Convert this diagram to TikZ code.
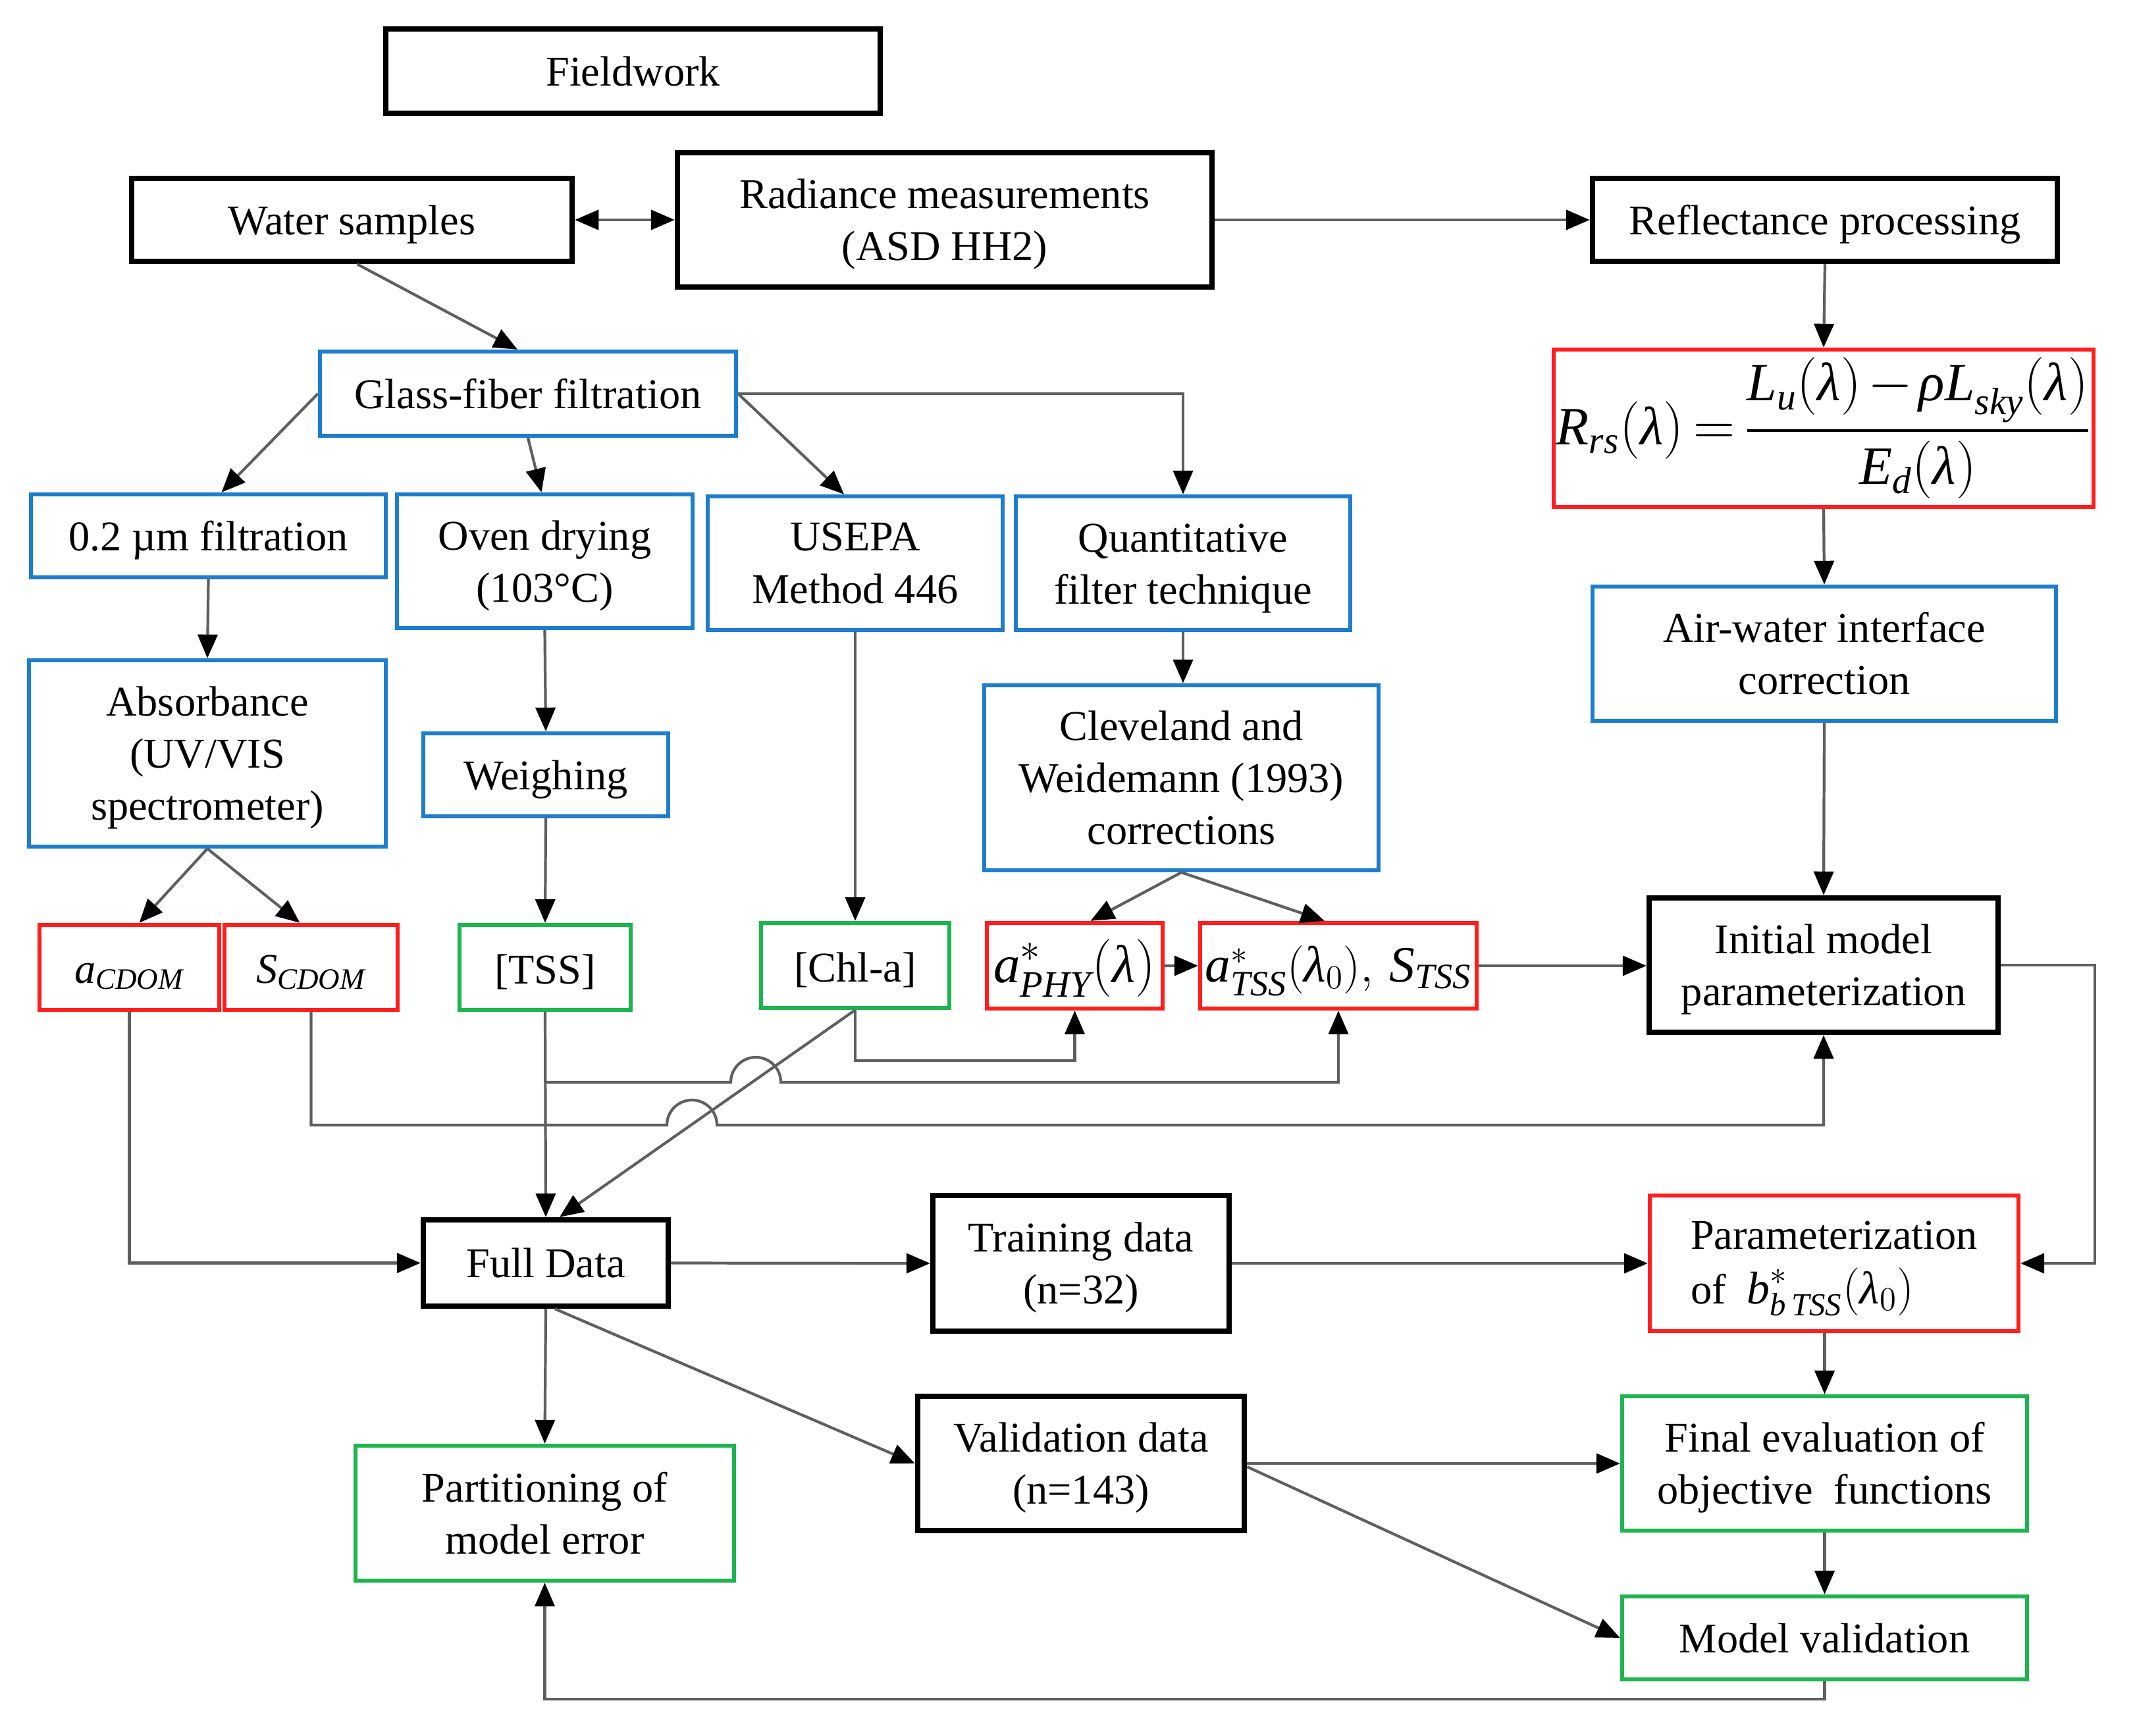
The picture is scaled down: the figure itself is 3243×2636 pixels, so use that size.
\documentclass[tikz,border=0pt]{standalone}
\usepackage{amsmath}
\usepackage{fontspec}
\setmainfont{Liberation Serif}
\usetikzlibrary{arrows.meta,calc}
\definecolor{cred}{RGB}{255,30,30}
\definecolor{cblue}{RGB}{30,125,205}
\definecolor{cgreen}{RGB}{30,180,80}
\definecolor{lineg}{RGB}{95,95,95}
\newcommand{\fs}{\fontsize{18.3pt}{22.5pt}\selectfont}
\newcommand{\vi}[1]{\textit{#1}}
\newcommand{\st}{\rule{0pt}{0.9em}}
\tikzset{
  wh/.style 2 args={minimum width=#1*0.01cm, minimum height=#2*0.01cm},
  box/.style={align=center, inner sep=0pt, font=\fs, text=black},
  blk/.style={box, draw=black, line width=2.4pt},
  blu/.style={box, draw=cblue, line width=1.8pt},
  rdb/.style={box, draw=cred, line width=1.8pt},
  grb/.style={box, draw=cgreen, line width=1.8pt},
  con/.style={draw=lineg, line width=1.2pt, -{Triangle[length=0.36cm,width=0.3cm,color=black]}},
  dcon/.style={draw=lineg, line width=1.2pt, {Triangle[length=0.36cm,width=0.3cm,color=black]}-{Triangle[length=0.36cm,width=0.3cm,color=black]}}
}
\begin{document}
\begin{tikzpicture}[x=0.01cm,y=-0.01cm]
\useasboundingbox[fill=white] (0,0) rectangle (3243,2636);
% nodes
\node[blk, wh={751}{128}] (fieldwork) at (961.5,108) {Fieldwork};
\node[blk, wh={669}{126}] (water) at (534.5,334) {\st Water samples};
\node[blk, wh={812}{204}] (radiance) at (1435,334) {\st Radiance measurements\\(ASD HH2)};
\node[blk, wh={706}{126}] (reflect) at (2772,334) {\st Reflectance processing};
\node[rdb, wh={820}{239}, font=\fontsize{23.3pt}{27pt}\selectfont] (rrs) at (2770,650.5)
  {$\vi{R}_{\vi{rs}}(\vi{λ})\mkern-2mu=\mkern-2mu\dfrac{\vi{L}_{\vi{u}}(\vi{λ})\mkern-2mu-\mkern-2mu\vi{ρL}_{\vi{sky}}(\vi{λ})}{\vi{E}_{\vi{d}}(\vi{λ})}$};
\node[blu, wh={632}{128}] (glass) at (802,598) {Glass-fiber filtration};
\node[blu, wh={539}{126}] (filt02) at (316.5,814) {\st 0.2 µm filtration};
\node[blu, wh={449}{203}] (oven) at (827.5,852.5) {\st Oven drying\\(103°C)};
\node[blu, wh={448}{203}] (usepa) at (1299,855.5) {USEPA\\Method 446};
\node[blu, wh={508}{203}] (quant) at (1797,855.5) {\st Quantitative\\filter technique};
\node[blu, wh={704}{204}] (airwater) at (2771,993) {Air-water interface\\correction};
\node[blu, wh={542}{283}] (absorb) at (315,1144.5) {\st Absorbance\\(UV/VIS\\spectrometer)};
\node[blu, wh={372}{126}] (weigh) at (829,1177) {\st Weighing};
\node[blu, wh={599}{281}] (clev) at (1794.5,1181.5) {Cleveland and\\Weidemann (1993)\\corrections};
\node[rdb, wh={273}{129}] (acdom) at (196.5,1469.5) {\st $\vi{a}_{\vi{CDOM}}$};
\node[rdb, wh={263}{129}] (scdom) at (472.5,1469.5) {\st $\vi{S}_{\vi{CDOM}}$};
\node[grb, wh={260}{129}] (tss) at (828,1469.5) {\st [TSS]};
\node[grb, wh={286}{129}] (chla) at (1299,1466.5) {\st [Chl-a]};
\node[rdb, wh={267}{130}, font=\fontsize{23pt}{27pt}\selectfont] (aphy) at (1632.5,1467) {\st $\vi{a}^{*}_{\vi{PHY}}(\vi{λ})$};
\node[rdb, wh={420}{130}, font=\fontsize{22pt}{26pt}\selectfont] (atss) at (2033,1467) {\st $\vi{a}^{*}_{\vi{TSS}}(\vi{λ}_{0}),\,\vi{S}_{\vi{TSS}}$};
\node[blk, wh={530}{204}] (initial) at (2770,1466) {\st Initial model\\parameterization};
\node[blk, wh={372}{131}] (full) at (829,1918.5) {Full Data};
\node[blk, wh={450}{206}] (train) at (1642,1919) {\st Training data\\(n=32)};
\node[rdb, wh={560}{206}, align=left] (param) at (2786,1919) {\st Parameterization\\[1pt]of\ \ {\fontsize{19.8pt}{22.5pt}\selectfont$\vi{b}^{*}_{\vi{b}\,\vi{TSS}}(\vi{λ}_{0})$}};
\node[blk, wh={496}{204}] (valid) at (1642,2223) {\st Validation data\\(n=143)};
\node[grb, wh={615}{204}] (final) at (2771.5,2223) {\st Final evaluation of\\objective\ \ functions};
\node[grb, wh={575}{205}] (partition) at (827.5,2298.5) {Partitioning of\\model error};
\node[grb, wh={615}{126}] (modelval) at (2771.5,2488) {Model validation};
% connectors
\draw[dcon] (water.east) -- (water.east -| radiance.west);
\draw[con] (radiance.east |- water.east) -- (water.east -| reflect.west);
\draw[con] ($(water.south)+(8,0)$) -- ($(glass.north)+(-16,0)$);
\draw[con] (glass.west) -- ($(filt02.north)+(20,0)$);
\draw[con] (glass.south) -- ($(oven.north)+(-5,0)$);
\draw[con] (glass.east) -- ($(usepa.north)+(-17,0)$);
\draw[con] (glass.east) -| (quant.north);
\draw[con] (filt02.south) -- (absorb.north);
\draw[con] (oven.south) -- (weigh.north);
\draw[con] (weigh.south) -- (tss.north);
\draw[con] (usepa.south) -- (chla.north);
\draw[con] (quant.south) -- (quant.south |- clev.north);
\draw[con] (absorb.south) -- ($(acdom.north)+(15,0)$);
\draw[con] (absorb.south) -- ($(scdom.north)+(-17,0)$);
\draw[con] (clev.south) -- ($(aphy.north)+(24,0)$);
\draw[con] (clev.south) -- ($(atss.north)+(-21,0)$);
\draw[con] (reflect.south) -- (rrs.north);
\draw[con] (rrs.south) -- (airwater.north);
\draw[con] (airwater.south) -- (initial.north);
\draw[con] (aphy.east) -- (atss.west);
\draw[con] (atss.east) -- (atss.east -| initial.west);
\draw[con] (initial.east) -- (3182,1466) |- (param.east);
% lines into Full Data and the hops
\draw[con] (acdom.south) |- (full.west);
\draw[con] (tss.south) -- (full.north);
\coordinate (tb) at (828,1644);
\draw[con] (tb) -- (1110,1644) arc[start angle=180,end angle=0,radius=0.38cm] -- (2033,1644) -- (atss.south);
\draw[con] (scdom.south) |- (1013,1709) arc[start angle=180,end angle=0,radius=0.38cm] -- (2770,1709) -- (initial.south);
\draw[con] (chla.south) |- (1632.5,1611) -- (aphy.south);
\draw[con] (chla.south) -- ($(full.north)+(21,0)$);
% lower part
\draw[con] (full.east) -- (train.west);
\draw[con] (train.east) -- (param.west);
\draw[con] (full.south) -- (partition.north);
\draw[con] ($(full.south)+(14,0)$) -- (valid.west);
\draw[con] (valid.east) -- (final.west);
\draw[con] ($(valid.east)+(0,5)$) -- (modelval.west);
\draw[con] (final.north |- param.south) -- (final.north);
\draw[con] (final.south) -- (modelval.north);
\draw[con] (modelval.south) -- (2771.5,2581) -| (partition.south);
\end{tikzpicture}
\end{document}
